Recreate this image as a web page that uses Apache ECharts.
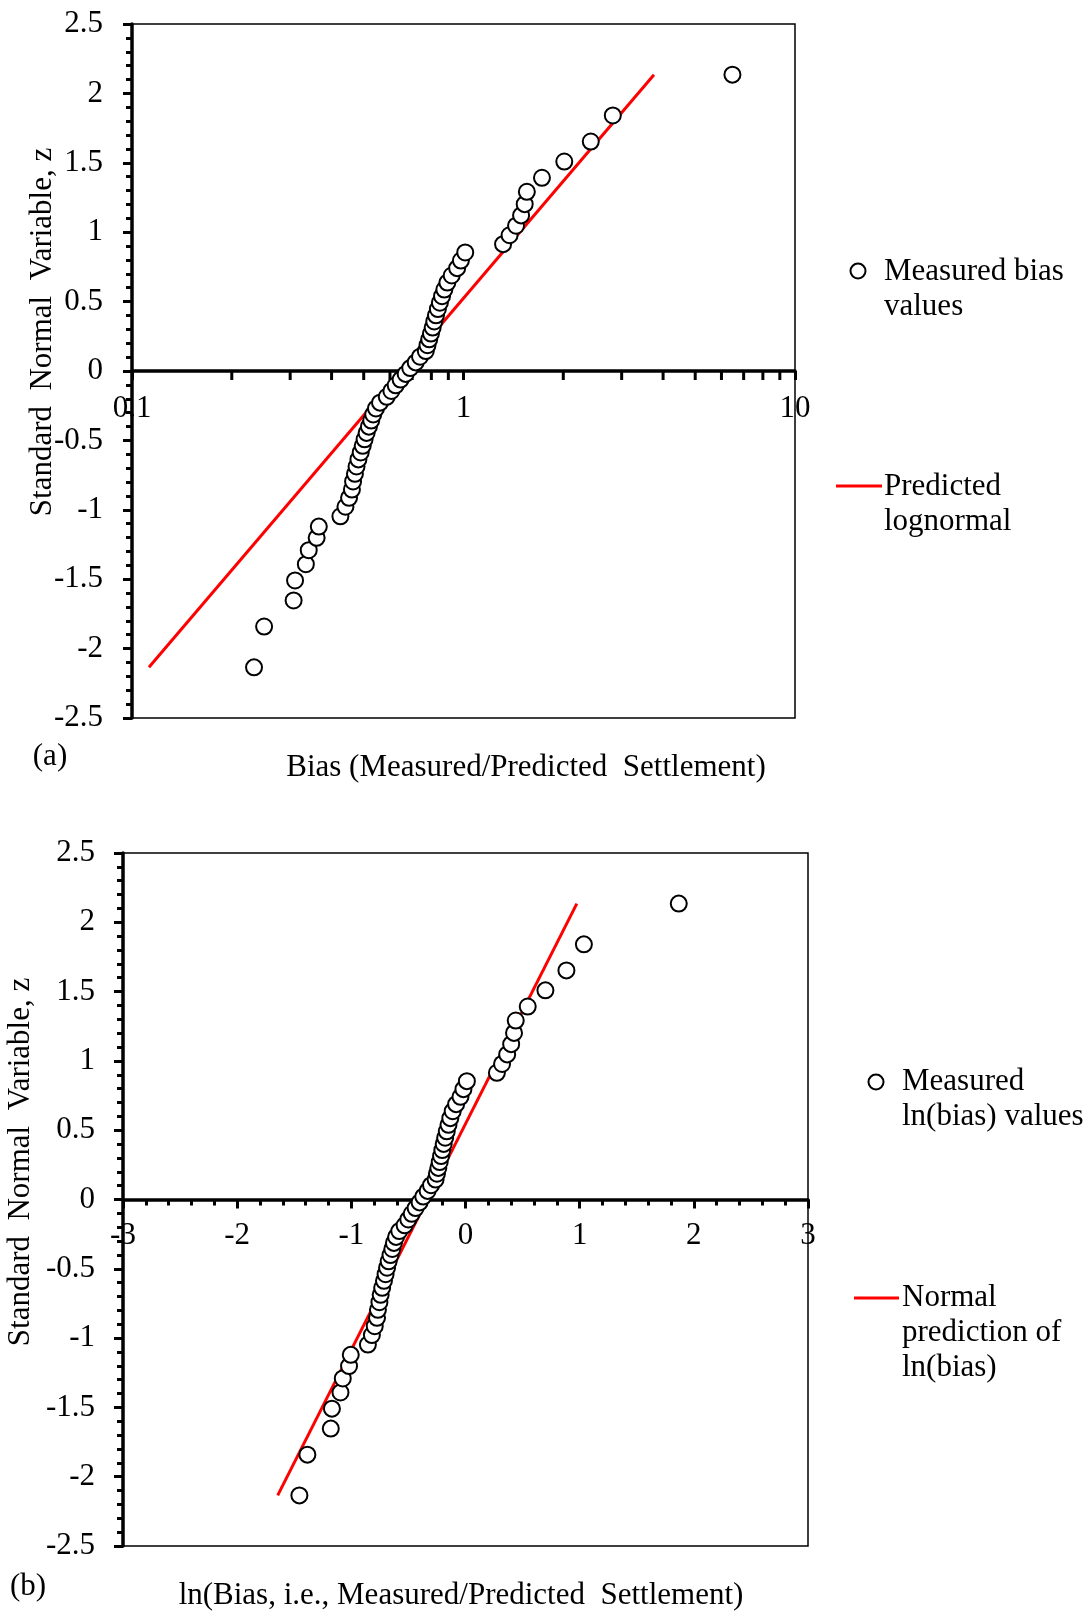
<!DOCTYPE html>
<html>
<head>
<meta charset="utf-8">
<title>Bias probability plots</title>
<script src="https://cdn.jsdelivr.net/npm/echarts@6.0.0/dist/echarts.min.js"></script>
<style>
  html, body { margin: 0; padding: 0; background: #fff; }
  #chart { width: 1091px; height: 1616px; }
</style>
</head>
<body>
<div id="chart"></div>
<script>
// standard normal variable z of each ranked point
const zScores = [
  -2.135, -1.841, -1.653, -1.509, -1.392, -1.291, -1.202, -1.121, -1.047, -0.978,
  -0.914, -0.854, -0.796, -0.741, -0.688, -0.637, -0.587, -0.539, -0.492, -0.446,
  -0.401, -0.357, -0.313, -0.270, -0.228, -0.186, -0.144, -0.103, -0.062, -0.021,
  0.021, 0.062, 0.103, 0.144, 0.186, 0.228, 0.270, 0.313, 0.357, 0.401,
  0.446, 0.492, 0.539, 0.587, 0.637, 0.688, 0.741, 0.796, 0.854, 0.914,
  0.978, 1.047, 1.121, 1.202, 1.291, 1.392, 1.509, 1.653, 1.841, 2.135
];
// ln(bias) of the same ranked points
const lnBias = [
  -1.455, -1.385, -1.18, -1.17, -1.095, -1.075, -1.02, -1.005, -0.855, -0.82,
  -0.795, -0.775, -0.767, -0.754, -0.743, -0.73, -0.714, -0.70, -0.687, -0.673,
  -0.657, -0.641, -0.627, -0.608, -0.58, -0.533, -0.501, -0.471, -0.437, -0.402,
  -0.37, -0.332, -0.302, -0.262, -0.25, -0.238, -0.226, -0.214, -0.203, -0.191,
  -0.178, -0.164, -0.149, -0.133, -0.112, -0.082, -0.044, -0.018, 0.012, 0.275,
  0.32, 0.365, 0.40, 0.425, 0.44, 0.545, 0.70, 0.884, 1.037, 1.868
];
// bias itself (panel a)
const bias = lnBias.map(v => Math.exp(v));

// predicted lines, straight on both plots -> end points
const lineZ = [-2.135, 2.135];
const lognormalBias = [0.1125, 3.755];
const normalLnBias = [-1.645, 0.975];

// log minor ticks on panel (a) x axis
const logMinorTicks = [0.2, 0.3, 0.4, 0.5, 0.6, 0.7, 0.8, 0.9, 2, 3, 4, 5, 6, 7, 8, 9];

const FONT = "'Liberation Serif', 'Times New Roman', serif";
const black = '#000';
const tickFont = 31;

let chart = echarts.init(document.getElementById('chart'), null, { renderer: 'canvas' });

function yAxisOf(grid, margin) {
  return {
    gridIndex: grid,
    type: 'value',
    min: -2.5,
    max: 2.5,
    interval: 0.5,
    axisLine: { show: true, onZero: false, lineStyle: { color: black, width: 3.5 } },
    axisTick: { show: true, length: 9, lineStyle: { color: black, width: 3 } },
    minorTick: { show: true, splitNumber: 5, length: 6, lineStyle: { color: black, width: 3 } },
    axisLabel: { margin: margin, color: black, fontFamily: FONT, fontSize: tickFont },
    splitLine: { show: false }
  };
}

function textEl(x, y, text, opts) {
  return Object.assign({
    type: 'text',
    x: x,
    y: y,
    silent: true,
    style: Object.assign({
      text: text,
      fill: black,
      fontFamily: FONT,
      fontSize: 31,
      align: 'center',
      verticalAlign: 'middle'
    }, (opts && opts.style) || {})
  }, (opts && opts.el) || {});
}

const circleStyle = { color: '#fff', borderColor: black, borderWidth: 2, opacity: 1 };

chart.setOption({
  animation: false,
  backgroundColor: '#fff',
  grid: [
    { left: 132, top: 24, width: 663, height: 694, show: true, borderColor: black, borderWidth: 1.5, backgroundColor: 'transparent' },
    { left: 123, top: 853, width: 685, height: 693, show: true, borderColor: black, borderWidth: 1.5, backgroundColor: 'transparent' }
  ],
  xAxis: [
    {
      gridIndex: 0,
      type: 'log',
      logBase: 10,
      min: 0.1,
      max: 10,
      position: 'bottom',
      offset: -347,   // axis drawn through z = 0
      axisLine: { onZero: false, lineStyle: { color: black, width: 3.5 } },
      axisTick: { length: 9, lineStyle: { color: black, width: 3 } },
      axisLabel: { margin: 22, color: black, fontFamily: FONT, fontSize: tickFont, showMinLabel: true, showMaxLabel: true },
      splitLine: { show: false }
    },
    {
      gridIndex: 1,
      type: 'value',
      min: -3,
      max: 3,
      interval: 1,
      position: 'bottom',
      offset: -346.5,
      axisLine: { onZero: false, lineStyle: { color: black, width: 3.5 } },
      axisTick: { length: 9, lineStyle: { color: black, width: 3 } },
      minorTick: { show: true, splitNumber: 5, length: 6, lineStyle: { color: black, width: 3 } },
      axisLabel: { margin: 21, color: black, fontFamily: FONT, fontSize: tickFont, showMinLabel: true, showMaxLabel: true },
      splitLine: { show: false }
    }
  ],
  yAxis: [yAxisOf(0, 29), yAxisOf(1, 28)],
  series: [
    {
      type: 'custom',
      xAxisIndex: 0,
      yAxisIndex: 0,
      silent: true,
      data: logMinorTicks.map(v => [v, 0]),
      renderItem: function (params, api) {
        const p = api.coord([api.value(0), 0]);
        return {
          type: 'line',
          shape: { x1: p[0], y1: p[1], x2: p[0], y2: p[1] + 9 },
          style: { stroke: black, lineWidth: 3 }
        };
      }
    },
    {
      name: 'Predicted lognormal',
      type: 'line',
      xAxisIndex: 0,
      yAxisIndex: 0,
      symbol: 'none',
      silent: true,
      z: 2,
      lineStyle: { color: '#ff0000', width: 3 },
      data: lineZ.map((z, i) => [lognormalBias[i], z])
    },
    {
      name: 'Measured bias values',
      type: 'scatter',
      xAxisIndex: 0,
      yAxisIndex: 0,
      symbol: 'circle',
      symbolSize: 16,
      silent: true,
      z: 3,
      itemStyle: circleStyle,
      data: bias.map((b, i) => [b, zScores[i]])
    },
    {
      name: 'Normal prediction of ln(bias)',
      type: 'line',
      xAxisIndex: 1,
      yAxisIndex: 1,
      symbol: 'none',
      silent: true,
      z: 2,
      lineStyle: { color: '#ff0000', width: 3 },
      data: lineZ.map((z, i) => [normalLnBias[i], z])
    },
    {
      name: 'Measured ln(bias) values',
      type: 'scatter',
      xAxisIndex: 1,
      yAxisIndex: 1,
      symbol: 'circle',
      symbolSize: 16,
      silent: true,
      z: 3,
      itemStyle: circleStyle,
      data: lnBias.map((v, i) => [v, zScores[i]])
    }
  ],
  graphic: [
    // panel (a) titles
    textEl(43, 332, 'Standard  Normal  Variable, z', { el: { rotation: Math.PI / 2 } }),
    textEl(526, 768, 'Bias (Measured/Predicted  Settlement)'),
    textEl(50, 757, '(a)'),
    // panel (a) legend
    { type: 'circle', shape: { cx: 858, cy: 271, r: 7.5 }, style: { fill: '#fff', stroke: black, lineWidth: 2 }, silent: true },
    textEl(884, 254, 'Measured bias\nvalues', { style: { align: 'left', verticalAlign: 'top', lineHeight: 35 } }),
    { type: 'line', shape: { x1: 836, y1: 486, x2: 882, y2: 486 }, style: { stroke: '#ff0000', lineWidth: 3 }, silent: true },
    textEl(884, 469, 'Predicted\nlognormal', { style: { align: 'left', verticalAlign: 'top', lineHeight: 35 } }),
    // panel (b) titles
    textEl(21, 1162, 'Standard  Normal  Variable, z', { el: { rotation: Math.PI / 2 } }),
    textEl(461, 1596, 'ln(Bias, i.e., Measured/Predicted  Settlement)'),
    textEl(28, 1587, '(b)'),
    // panel (b) legend
    { type: 'circle', shape: { cx: 876, cy: 1082, r: 7.5 }, style: { fill: '#fff', stroke: black, lineWidth: 2 }, silent: true },
    textEl(902, 1064, 'Measured\nln(bias) values', { style: { align: 'left', verticalAlign: 'top', lineHeight: 35 } }),
    { type: 'line', shape: { x1: 854, y1: 1298, x2: 899, y2: 1298 }, style: { stroke: '#ff0000', lineWidth: 3 }, silent: true },
    textEl(902, 1280, 'Normal\nprediction of\nln(bias)', { style: { align: 'left', verticalAlign: 'top', lineHeight: 35 } })
  ]
});
</script>
</body>
</html>
